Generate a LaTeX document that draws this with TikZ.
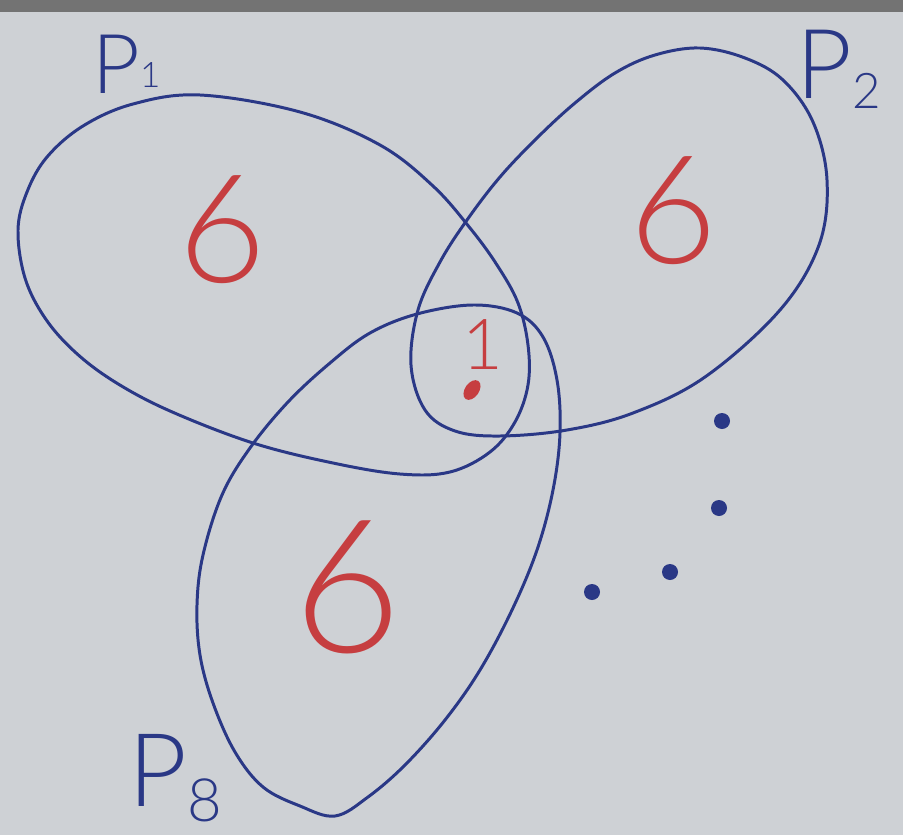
\documentclass[tikz,border=0pt]{standalone}
\usepackage{fontspec}
\usepackage{xcolor}

\newfontfamily\handfont{Lato Light}
\definecolor{inkblue}{RGB}{42,56,134}
\definecolor{inkred}{RGB}{198,62,64}
\definecolor{board}{RGB}{206,209,213}

\begin{document}
\begin{tikzpicture}[x=0.02cm, y=-0.02cm,
    ink/.style={draw=inkblue, line width=1.7pt, line join=round},
    six/.style={text=inkred, inner sep=0pt, font=\handfont\fontsize{86}{86}\selectfont},
    plabel/.style={text=inkblue, inner sep=0pt, anchor=base west}]
    % whiteboard
    \fill[board] (0,0) rectangle (903,835);
    \fill[black!55] (0,0) rectangle (903,12);
    \useasboundingbox (0,0) rectangle (903,835);

    % P1
    \draw[ink] plot[smooth cycle, tension=0.6] coordinates {(18,230) (25,278) (45,318) (75,352) (115,382) (170,411) (253,443) (333,463) (400,474) (450,472) (490,452) (515,422) (528,385) (528,345) (518,303) (497,265) (470,228) (433,186) (380,145) (300,112) (200,95) (133,104) (83,126) (47,157) (27,192)};
    % P2
    \draw[ink] plot[smooth cycle, tension=0.6] coordinates {(700,48) (745,58) (783,80) (813,122) (827,180) (819,245) (780,310) (705,377) (633,413) (567,430) (500,436) (455,431) (425,410) (411,365) (418,310) (440,262) (467,220) (500,177) (537,138) (575,103) (615,73) (655,55)};
    % P8
    \draw[ink] plot[smooth cycle, tension=0.6] coordinates {(417,314) (473,305) (517,313) (543,337) (557,380) (560,433) (553,490) (537,550) (512,610) (480,670) (445,720) (405,765) (368,797) (335,816) (300,806) (263,787) (235,752) (213,703) (200,655) (197,605) (203,555) (222,495) (250,448) (288,402) (330,363) (370,333)};

    % labels
    \node[plabel, font=\handfont\fontsize{47}{47}\selectfont] (p1) at (92,93) {P\raisebox{3pt}{\fontsize{20}{20}\selectfont 1}};
    \node[plabel, font=\handfont\fontsize{55}{55}\selectfont] (p2) at (796,98) {P\raisebox{-6pt}{\fontsize{28}{28}\selectfont 2}};
    \node[plabel, font=\handfont\fontsize{58}{58}\selectfont] (p8) at (128,806) {P\raisebox{-9pt}{\fontsize{34}{34}\selectfont 8}};

    % counts
    \node[six] (six1) at (222,230) {6};
    \node[six] (six2) at (673,211) {6};
    \node[six, font=\handfont\fontsize{106}{106}\selectfont] (six3) at (348,587) {6};
    \node[text=inkred, inner sep=0pt, font=\handfont\fontsize{40}{40}\selectfont] (one) at (483,345) {1};
    \fill[inkred, rotate around={-35:(472,390)}] (472,390) ellipse [x radius=7, y radius=11];

    % dots
    \foreach \x/\y in {722/421, 719/508, 670/572, 592/592}
        \fill[inkblue] (\x,\y) circle [radius=8];
\end{tikzpicture}
\end{document}
